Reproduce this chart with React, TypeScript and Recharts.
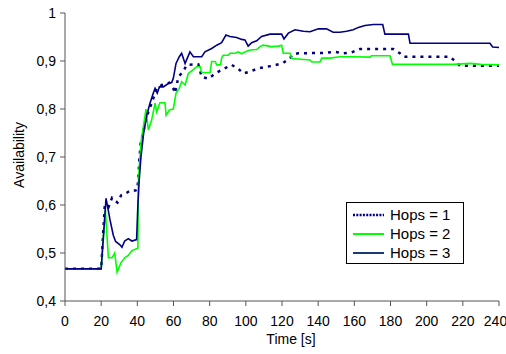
import React from 'react';
import { LineChart, Line, XAxis, YAxis, Legend, Label } from 'recharts';

const xTicks = [0, 20, 40, 60, 80, 100, 120, 140, 160, 180, 200, 220, 240];
const yTicks = [0.4, 0.5, 0.6, 0.7, 0.8, 0.9, 1];
const seriesNames = ['Hops = 1', 'Hops = 2', 'Hops = 3'];

const hops1T = [0, 20, 22, 24, 26, 29, 31, 34, 36, 39, 40, 40.6, 41.1, 41.9, 43.3, 44.2, 46.1, 47.9, 50.7, 53.5, 57.7, 59.9, 60.8, 62.7, 65.4, 67.3, 73.7, 75.6, 79.3, 82, 83.9, 87.5, 92.1, 95.8, 98.6, 102.3, 107, 111.6, 115, 120.7, 124.4, 126.2, 129, 143.8, 149.3, 153.8, 158.5, 163.1, 181.5, 185.2, 187, 212.8, 215.6, 218.4, 240];
const hops1V = [0.467, 0.467, 0.6, 0.595, 0.615, 0.605, 0.62, 0.625, 0.63, 0.63, 0.632, 0.659, 0.694, 0.732, 0.751, 0.77, 0.794, 0.812, 0.843, 0.85, 0.855, 0.843, 0.833, 0.867, 0.878, 0.892, 0.893, 0.867, 0.863, 0.871, 0.876, 0.883, 0.892, 0.884, 0.874, 0.878, 0.885, 0.888, 0.89, 0.896, 0.906, 0.914, 0.916, 0.917, 0.919, 0.916, 0.918, 0.925, 0.925, 0.916, 0.909, 0.909, 0.9, 0.89, 0.89];

const hops2T = [0, 20, 22.3, 24, 26, 27.5, 28.8, 31, 33, 35, 37, 40.3, 40.6, 42, 44.8, 46.1, 47.9, 49.8, 50.7, 52.5, 55.3, 55.9, 57.7, 59.9, 61.4, 63.2, 64.5, 66.4, 68.2, 70.6, 72.8, 74.7, 75.6, 80.2, 81.1, 83, 83.9, 86, 86.6, 87.5, 90.5, 91.2, 94, 95.8, 97.7, 99.5, 102.3, 106, 107.8, 109.6, 114.2, 118, 119.8, 120.7, 124.4, 125.3, 135.5, 136.5, 141, 142, 146.5, 152, 159.4, 168.7, 169.5, 179.7, 181.1, 188.9, 214.7, 224, 230, 240];
const hops2V = [0.467, 0.467, 0.59, 0.49, 0.49, 0.5, 0.46, 0.48, 0.49, 0.495, 0.505, 0.51, 0.652, 0.73, 0.8, 0.756, 0.777, 0.812, 0.794, 0.813, 0.813, 0.787, 0.798, 0.8, 0.833, 0.843, 0.857, 0.85, 0.874, 0.881, 0.888, 0.888, 0.876, 0.876, 0.899, 0.899, 0.892, 0.892, 0.906, 0.912, 0.912, 0.916, 0.916, 0.919, 0.915, 0.919, 0.923, 0.924, 0.93, 0.933, 0.93, 0.931, 0.933, 0.916, 0.916, 0.905, 0.902, 0.898, 0.898, 0.906, 0.906, 0.909, 0.909, 0.908, 0.911, 0.911, 0.893, 0.893, 0.893, 0.895, 0.893, 0.892];

const hops3T = [0, 20, 22.7, 24.9, 26.7, 28, 30.4, 31.5, 33, 35, 37, 39.6, 40.3, 41, 42, 43.5, 45.2, 47, 48.8, 49.8, 51, 52.2, 54.4, 57.1, 59, 59.9, 61.4, 63.2, 64.5, 66.4, 69.1, 71, 75.6, 77.4, 81.1, 83.9, 86.6, 89, 91.2, 94.9, 97.7, 99.5, 101.3, 103.2, 106, 108.7, 113.4, 115.2, 119.8, 121.1, 123.5, 127.2, 131.8, 135.5, 140.1, 144.6, 148.3, 152, 155.7, 159.4, 162.2, 165.9, 170.5, 175.7, 176.9, 189.9, 190.8, 235, 236.5, 240];
const hops3V = [0.467, 0.467, 0.614, 0.569, 0.537, 0.524, 0.517, 0.512, 0.525, 0.53, 0.525, 0.528, 0.6, 0.65, 0.7, 0.75, 0.787, 0.812, 0.833, 0.843, 0.833, 0.846, 0.846, 0.853, 0.855, 0.864, 0.895, 0.909, 0.916, 0.895, 0.919, 0.909, 0.909, 0.919, 0.926, 0.933, 0.938, 0.954, 0.951, 0.949, 0.945, 0.944, 0.931, 0.938, 0.942, 0.951, 0.956, 0.956, 0.956, 0.946, 0.958, 0.965, 0.962, 0.961, 0.967, 0.967, 0.96, 0.96, 0.962, 0.965, 0.97, 0.974, 0.976, 0.976, 0.956, 0.956, 0.937, 0.937, 0.929, 0.928];

const toData = (ts: number[], vs: number[]) => ts.map((t, i) => ({ t, v: vs[i] }));
const hops1 = toData(hops1T, hops1V);
const hops2 = toData(hops2T, hops2V);
const hops3 = toData(hops3T, hops3V);

const NAVY = '#000080';
const GREEN = '#00ff00';
const FONT = '"Liberation Sans", Arial, sans-serif';

const fmtY = (v: number) => (v === 1 ? '1' : v.toFixed(1).replace('.', ','));

const LegendBox = () => {
  const items = [
    { name: seriesNames[0], color: NAVY, dash: '2 1.3', w: 2.5 },
    { name: seriesNames[1], color: GREEN, dash: undefined, w: 2 },
    { name: seriesNames[2], color: '#1a3a70', dash: undefined, w: 2 },
  ];
  return (
    <div
      style={{
        boxSizing: 'border-box',
        width: 118,
        height: 62,
        border: '1px solid #000',
        background: '#fff',
        padding: '2px 0 0 6px',
        fontFamily: FONT,
        fontSize: 15,
        color: '#000',
      }}
    >
      {items.map((it) => (
        <div key={it.name} style={{ display: 'flex', alignItems: 'center', height: 19 }}>
          <svg width={31} height={10} style={{ marginRight: 6 }}>
            <line x1={0} y1={5} x2={31} y2={5} stroke={it.color} strokeWidth={it.w} strokeDasharray={it.dash} />
          </svg>
          <span style={{ lineHeight: '19px' }}>{it.name}</span>
        </div>
      ))}
    </div>
  );
};

export default function App() {
  return (
    <div style={{ position: 'absolute', left: 0, top: 0, width: 506, height: 354, background: '#fff' }}>
      <LineChart width={506} height={354} margin={{ top: 13, right: 7, bottom: 0, left: 0 }}>
        <XAxis
          dataKey="t"
          type="number"
          domain={[0, 240]}
          ticks={xTicks}
          allowDataOverflow
          height={53}
          stroke="#555"
          tickSize={5}
          tickMargin={10}
          tick={{ fill: '#000', fontSize: 14, fontFamily: FONT }}
          tickLine={{ stroke: '#555' }}
        >
          <Label
            content={() => (
              <text x={291} y={344} textAnchor="middle" fontFamily={FONT} fontSize={14} fill="#000">
                Time [s]
              </text>
            )}
          />
        </XAxis>
        <YAxis
          type="number"
          domain={[0.4, 1]}
          ticks={yTicks}
          tickFormatter={fmtY}
          width={65}
          stroke="#555"
          tickSize={5}
          tickMargin={4}
          tick={{ fill: '#000', fontSize: 14, fontFamily: FONT }}
          tickLine={{ stroke: '#555' }}
        >
          <Label
            content={() => (
              <text
                x={24}
                y={155}
                transform="rotate(-90, 24, 155)"
                textAnchor="middle"
                fontFamily={FONT}
                fontSize={14}
                fill="#000"
              >
                Availability
              </text>
            )}
          />
        </YAxis>
        <Line
          data={hops1}
          dataKey="v"
          name={seriesNames[0]}
          stroke={NAVY}
          strokeWidth={2.5}
          strokeDasharray="3 5"
          dot={false}
          isAnimationActive={false}
        />
        <Line
          data={hops2}
          dataKey="v"
          name={seriesNames[1]}
          stroke={GREEN}
          strokeWidth={1.6}
          dot={false}
          isAnimationActive={false}
        />
        <Line
          data={hops3}
          dataKey="v"
          name={seriesNames[2]}
          stroke={NAVY}
          strokeWidth={1.6}
          dot={false}
          isAnimationActive={false}
        />
        <Legend
          layout="horizontal"
          verticalAlign="middle"
          align="center"
          content={() => <LegendBox />}
          wrapperStyle={{ left: 346, top: 202, width: 118, height: 62 }}
        />
      </LineChart>
    </div>
  );
}
